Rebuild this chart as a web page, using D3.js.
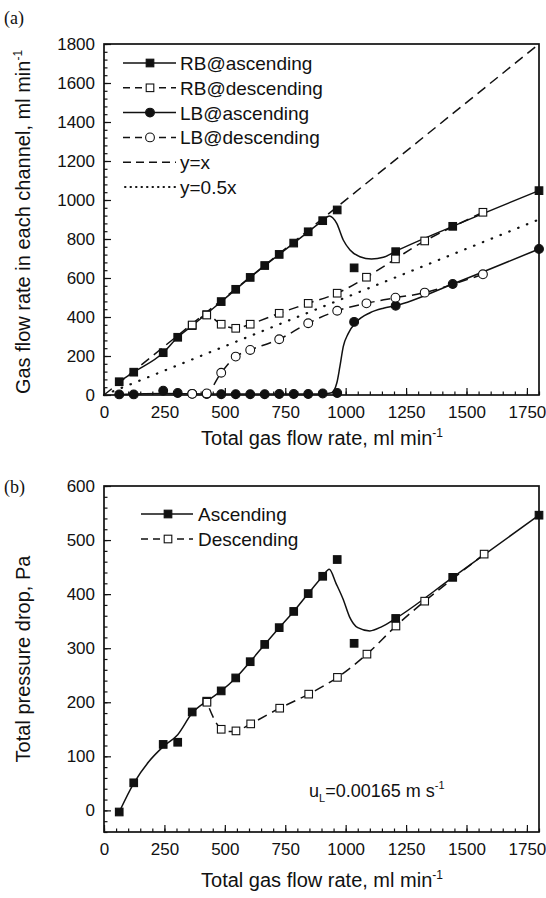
<!DOCTYPE html>
<html><head><meta charset="utf-8">
<script src="https://cdn.jsdelivr.net/npm/d3@7"></script>
<style>
body{margin:0;background:#fff;}
text{font-family:"Liberation Sans",Arial,sans-serif;fill:#111;}
</style></head>
<body><svg id="c" width="546" height="898"></svg>
<script>
// ---------- DATA ----------
const xTicks = [0,250,500,750,1000,1250,1500,1750];
const yTicksA = [0,200,400,600,800,1000,1200,1400,1600,1800];
const yTicksB = [0,100,200,300,400,500,600];

// Panel (a) markers
const ascX      = [63,123,245,305,365,425,485,545,605,665,725,785,845,905,965,1035,1207,1443,1800];
const rbAsc     = [68,117,217,296,356,412,479,542,603,664,721,779,837,894,949,652,735,865,1048];
const lbAsc     = [3,3,22,10,6,5,4,4,4,4,5,5,5,8,10,375,458,569,749];
const descXA    = [1568,1327,1206,1086,965,845,725,605,545,485,425,365];
const rbDesc    = [937,790,698,604,522,470,419,363,342,363,410,359];
const lbDesc    = [619,525,499,470,432,368,286,231,197,114,8,6];
// Panel (a) fitted curves
const rbAscFitX = [63,123,245,305,365,485,605,725,845,905,932,963,990,1018,1059,1107,1156,1207,1443,1800];
const rbAscFitY = [68,117,217,296,356,479,603,721,837,894,918,880,795,744,709,697,706,737,865,1048];
const lbAscFitX = [63,245,500,900,942,963,976,990,1011,1045,1101,1156,1207,1443,1800];
const lbAscFitY = [3,8,5,5,12,60,145,248,316,376,422,445,458,569,749];

// Panel (b)
const dpAsc     = [-3,51,122,126,182,202,221,245,275,307,338,368,401,433,464,309,355,431,546];
const descXB    = [1573,1327,1208,1088,966,847,727,607,546,485,426];
const dpDesc    = [474,387,341,289,246,215,189,160,147,150,200];
const dpFitX    = [63,123,185,245,305,365,425,485,545,605,665,725,785,845,905,932,960,990,1016,1050,1100,1150,1207,1443,1800];
const dpFitY    = [-3,50,90,118,140,180,202,221,245,275,307,338,368,401,433,446,420,390,358,338,332,340,355,431,546];

const refX = [0,1800];

// ---------- DRAW ----------
const svg = d3.select("#c");
const L=104, R=539;
const xA = d3.scaleLinear([0,1800],[L,R]);
const yA = d3.scaleLinear([0,1800],[395,44]);
const xB = d3.scaleLinear([0,1800],[L,R]);
const yB = d3.scaleLinear([-40,600],[832,486]);

function axes(x,y,yTicks,yMinor,top,bottom){
  const g = svg.append("g");
  g.append("g").attr("transform",`translate(0,${bottom})`)
    .call(d3.axisBottom(x).tickValues(d3.range(0,1801,50)).tickSize(-3.5).tickFormat(""))
    .call(s=>s.select(".domain").remove());
  g.append("g").attr("transform",`translate(0,${bottom})`)
    .call(d3.axisBottom(x).tickValues(xTicks).tickSize(-7).tickPadding(11).tickFormat(d3.format("d")))
    .call(s=>s.select(".domain").remove());
  g.append("g").attr("transform",`translate(${L},0)`)
    .call(d3.axisLeft(y).tickValues(yMinor).tickSize(-3.5).tickFormat(""))
    .call(s=>s.select(".domain").remove());
  g.append("g").attr("transform",`translate(${L},0)`)
    .call(d3.axisLeft(y).tickValues(yTicks).tickSize(-7).tickPadding(9).tickFormat(d3.format("d")))
    .call(s=>s.select(".domain").remove());
  g.selectAll(".tick line").attr("stroke","#111").attr("stroke-width",1.2);
  g.selectAll(".tick text").style("font-family","Liberation Sans, Arial, sans-serif").style("font-size","17px").attr("fill","#111");
  svg.append("rect").attr("x",L).attr("y",top).attr("width",R-L).attr("height",bottom-top)
    .attr("fill","none").attr("stroke","#111").attr("stroke-width",1.7);
}

function curve(x,y,xs,ys,dash,type){
  const pts = xs.map((v,i)=>[v,ys[i]]);
  svg.append("path").datum(pts)
    .attr("d",d3.line().x(d=>x(d[0])).y(d=>y(d[1])).curve(type||d3.curveMonotoneX))
    .attr("fill","none").attr("stroke","#111").attr("stroke-width",1.5)
    .attr("stroke-dasharray",dash||null);
}
function markers(x,y,xs,ys,shape,filled){
  const pts = xs.map((v,i)=>[v,ys[i]]);
  const g = svg.append("g");
  if(shape==="sq"){
    g.selectAll("rect").data(pts).join("rect")
      .attr("x",d=>x(d[0])-3.8).attr("y",d=>y(d[1])-3.8).attr("width",7.6).attr("height",7.6)
      .attr("fill",filled?"#111":"#fff").attr("stroke","#111").attr("stroke-width",1.1);
  } else {
    g.selectAll("circle").data(pts).join("circle")
      .attr("cx",d=>x(d[0])).attr("cy",d=>y(d[1])).attr("r",4.4)
      .attr("fill",filled?"#111":"#fff").attr("stroke","#111").attr("stroke-width",1.1);
  }
}
function sup(t,main,s){
  t.append("tspan").text(main);
  t.append("tspan").attr("dy",-8).style("font-size","12px").text(s);
}

// ---- Panel (a)
axes(xA,yA,yTicksA,d3.range(0,1801,40),44,395);
svg.append("path").datum(refX).attr("d",d3.line().x(d=>xA(d)).y(d=>yA(d)))
  .attr("stroke","#111").attr("stroke-width",1.5).attr("stroke-dasharray","10,6").attr("fill","none");
svg.append("path").datum(refX).attr("d",d3.line().x(d=>xA(d)).y(d=>yA(0.5*d)))
  .attr("stroke","#111").attr("stroke-width",2.2).attr("stroke-dasharray","0.5,9").attr("stroke-linecap","round").attr("fill","none");
curve(xA,yA,rbAscFitX,rbAscFitY);
curve(xA,yA,lbAscFitX,lbAscFitY);
curve(xA,yA,descXA,rbDesc,"10,6",d3.curveCatmullRom);
curve(xA,yA,descXA,lbDesc,"10,6",d3.curveCatmullRom);
markers(xA,yA,ascX,rbAsc,"sq",true);
markers(xA,yA,ascX,lbAsc,"ci",true);
markers(xA,yA,descXA,rbDesc,"sq",false);
markers(xA,yA,descXA,lbDesc,"ci",false);

// legend (a)
const legA = [
  {t:"RB@ascending",dash:null,m:"sq",f:true},
  {t:"RB@descending",dash:"7,5",m:"sq",f:false},
  {t:"LB@ascending",dash:null,m:"ci",f:true},
  {t:"LB@descending",dash:"7,5",m:"ci",f:false},
  {t:"y=x",dash:"8,5",m:null},
  {t:"y=0.5x",dash:"0.5,5",m:null}
];
legA.forEach((d,i)=>{
  const yy = 63 + i*24.8;
  const dot = d.t==="y=0.5x";
  svg.append("line").attr("x1",dot?125:123).attr("x2",176).attr("y1",yy).attr("y2",yy)
    .attr("stroke","#111").attr("stroke-width",dot?2:1.5).attr("stroke-dasharray",d.dash)
    .attr("stroke-linecap",dot?"round":"butt");
  if(d.m==="sq") svg.append("rect").attr("x",150-3.8).attr("y",yy-3.8).attr("width",7.6).attr("height",7.6)
      .attr("fill",d.f?"#111":"#fff").attr("stroke","#111").attr("stroke-width",1.1);
  if(d.m==="ci") svg.append("circle").attr("cx",150).attr("cy",yy).attr("r",4.4)
      .attr("fill",d.f?"#111":"#fff").attr("stroke","#111").attr("stroke-width",1.1);
  svg.append("text").attr("x",180).attr("y",yy+7).style("font-size","19px").text(d.t);
});

svg.append("text").attr("x",4).attr("y",24).style("font-family","Liberation Serif").style("font-size","18px").text("(a)");
const ta = svg.append("text").attr("transform","translate(30,222) rotate(-90)").attr("text-anchor","middle").style("font-size","20px");
sup(ta,"Gas flow rate in each channel, ml min","-1");
const xa = svg.append("text").attr("x",322).attr("y",445).attr("text-anchor","middle").style("font-size","20px");
sup(xa,"Total gas flow rate, ml min","-1");

// ---- Panel (b)
axes(xB,yB,yTicksB,d3.range(-40,601,20),486,832);
curve(xB,yB,dpFitX,dpFitY);
curve(xB,yB,descXB,dpDesc,"10,6",d3.curveCatmullRom);
markers(xB,yB,ascX,dpAsc,"sq",true);
markers(xB,yB,descXB,dpDesc,"sq",false);

const legB = [{t:"Ascending",dash:null,f:true},{t:"Descending",dash:"7,5",f:false}];
legB.forEach((d,i)=>{
  const yy = 514 + i*25;
  svg.append("line").attr("x1",141).attr("x2",193).attr("y1",yy).attr("y2",yy)
    .attr("stroke","#111").attr("stroke-width",1.5).attr("stroke-dasharray",d.dash);
  svg.append("rect").attr("x",168-3.8).attr("y",yy-3.8).attr("width",7.6).attr("height",7.6)
    .attr("fill",d.f?"#111":"#fff").attr("stroke","#111").attr("stroke-width",1.1);
  svg.append("text").attr("x",198).attr("y",yy+7).style("font-size","19px").text(d.t);
});

svg.append("text").attr("x",4).attr("y",493).style("font-family","Liberation Serif").style("font-size","18px").text("(b)");
const tb = svg.append("text").attr("transform","translate(30,659) rotate(-90)").attr("text-anchor","middle").style("font-size","20px");
tb.text("Total pressure drop, Pa");
const xb = svg.append("text").attr("x",322).attr("y",887).attr("text-anchor","middle").style("font-size","20px");
sup(xb,"Total gas flow rate, ml min","-1");

const u = svg.append("text").attr("x",309).attr("y",797).style("font-size","18px");
u.append("tspan").text("u");
u.append("tspan").attr("dy",5).style("font-size","11px").text("L");
u.append("tspan").attr("dy",-5).text("=0.00165 m s");
u.append("tspan").attr("dy",-8).style("font-size","11px").text("-1");
</script></body></html>
